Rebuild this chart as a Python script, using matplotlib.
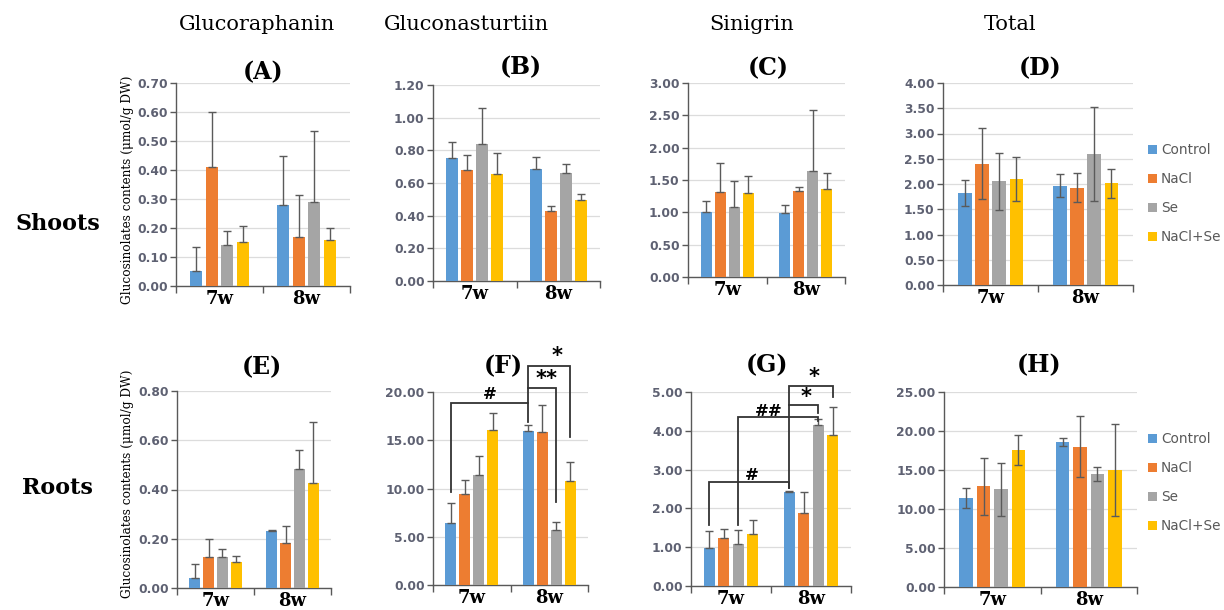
import numpy as np
import matplotlib
matplotlib.use("Agg")
import matplotlib.pyplot as plt
from matplotlib.patches import Patch

# ---------------- data ----------------
weeks = ['7w', '8w']
treatments = ['Control', 'NaCl', 'Se', 'NaCl+Se']
colors = ['#5B9BD5', '#ED7D31', '#A5A5A5', '#FFC000']

column_titles = ['Glucoraphanin', 'Gluconasturtiin', 'Sinigrin', 'Total']
row_titles = ['Shoots', 'Roots']
panel_labels = ['(A)', '(B)', '(C)', '(D)', '(E)', '(F)', '(G)', '(H)']

# means: [7w values per treatment], [8w values per treatment]
A_mean = [[0.053, 0.410, 0.142, 0.150], [0.281, 0.170, 0.288, 0.158]]
A_err = [[0.081, 0.190, 0.049, 0.058], [0.166, 0.145, 0.248, 0.043]]
B_mean = [[0.756, 0.681, 0.838, 0.656], [0.687, 0.427, 0.662, 0.497]]
B_err = [[0.094, 0.088, 0.221, 0.125], [0.075, 0.033, 0.056, 0.037]]
C_mean = [[1.007, 1.310, 1.084, 1.294], [0.991, 1.325, 1.638, 1.356]]
C_err = [[0.169, 0.452, 0.395, 0.267], [0.129, 0.072, 0.951, 0.247]]
D_mean = [[1.82, 2.40, 2.05, 2.10], [1.97, 1.93, 2.59, 2.01]]
D_err = [[0.26, 0.70, 0.57, 0.44], [0.22, 0.28, 0.93, 0.28]]
E_mean = [[0.040, 0.124, 0.124, 0.107], [0.232, 0.182, 0.482, 0.425]]
E_err = [[0.057, 0.074, 0.036, 0.023], [0.005, 0.069, 0.078, 0.248]]
F_mean = [[6.47, 9.48, 11.35, 16.09], [15.95, 15.88, 5.71, 10.76]]
F_err = [[2.01, 1.42, 1.97, 1.76], [0.62, 2.74, 0.86, 1.97]]
G_mean = [[0.99, 1.23, 1.07, 1.33], [2.43, 1.88, 4.14, 3.90]]
G_err = [[0.43, 0.23, 0.38, 0.36], [0.01, 0.55, 0.16, 0.71]]
H_mean = [[11.45, 12.90, 12.52, 17.56], [18.59, 17.99, 14.53, 15.04]]
H_err = [[1.30, 3.70, 3.40, 1.90], [0.55, 3.90, 0.90, 5.90]]

y_max = [0.70, 1.20, 3.00, 4.00, 0.80, 20.0, 5.0, 25.0]
y_step = [0.10, 0.20, 0.50, 0.50, 0.20, 5.0, 1.0, 5.0]
symmetric = [False, False, False, True, False, False, False, True]

# significance brackets: (week_left, trt_left, y_left_bottom, y_top, week_right, trt_right, y_right_bottom, label, label_x, label_y)
F_brackets = [
    (0, 0, 9.6, 18.9, 1, 0, 16.85, '#', 0.23, 18.9),
    (1, 0, 18.9, 20.4, 1, 2, 8.65, '**', 0.96, 20.35),
    (1, 0, 20.4, 22.66, 1, 3, 15.33, '*', 1.10, 22.7),
]
G_brackets = [
    (0, 0, 1.57, 2.69, 1, 0, 2.52, '#', 0.26, 2.62),
    (0, 2, 1.57, 4.35, 1, 2, 4.25, '##', 0.47, 4.28),
    (1, 0, 2.52, 4.66, 1, 2, 4.46, '*', 0.94, 4.62),
    (1, 0, 4.66, 5.16, 1, 3, 4.87, '*', 1.04, 5.12),
]

# ---------------- layout ----------------
W, H = 1224, 610
boxes = [  # left, right, top, bottom in pixels
    (176, 350, 83, 286), (433, 600, 85, 281), (688, 845, 83, 277), (943, 1133, 83, 285),
    (177, 331, 391, 588), (433, 588, 392, 585), (691, 851, 392, 586), (944, 1137, 392, 587),
]
label_pos = [(263, 72), (521, 67), (768, 68), (1040, 68),
             (262, 367), (503, 366), (767, 365), (1039, 365)]

pitch = 0.18
bw = 0.14
tick_color = '#5e6172'
axis_color = '#595959'

fig = plt.figure(figsize=(W / 100, H / 100), dpi=100)

means_all = [A_mean, B_mean, C_mean, D_mean, E_mean, F_mean, G_mean, H_mean]
errs_all = [A_err, B_err, C_err, D_err, E_err, F_err, G_err, H_err]
axes = []
for i, (l, r, t, b) in enumerate(boxes):
    ax = fig.add_axes([l / W, 1 - b / H, (r - l) / W, (b - t) / H])
    axes.append(ax)
    means, errs = means_all[i], errs_all[i]
    x = np.arange(len(weeks))
    for k in range(len(treatments)):
        xs = x + (k - 1.5) * pitch
        m = [means[w][k] for w in range(len(weeks))]
        e = [errs[w][k] for w in range(len(weeks))]
        yerr = [e, e] if symmetric[i] else [[0] * len(e), e]
        ax.bar(xs, m, width=bw, color=colors[k], yerr=yerr, zorder=3,
               error_kw=dict(ecolor='#5a5a5a', elinewidth=1.0, capsize=3, capthick=1.0, zorder=4),
               label=treatments[k])
    ax.set_xlim(-0.5, 1.5)
    ax.set_ylim(0, y_max[i])
    ticks = np.arange(0, y_max[i] + y_step[i] / 2, y_step[i])
    ax.set_yticks(ticks)
    ax.set_yticklabels(['%.2f' % v for v in ticks], fontsize=8.8, fontweight='bold',
                       color=tick_color, family='DejaVu Sans')
    ax.set_xticks(x)
    ax.set_xticklabels(weeks, fontsize=13, fontweight='bold', family='DejaVu Serif')
    ax.set_xticks([-0.5, 0.5, 1.5], minor=True)
    ax.tick_params(axis='x', which='major', length=0, pad=3)
    ax.tick_params(axis='x', which='minor', length=5, direction='out', color=axis_color, width=1)
    ax.tick_params(axis='y', length=4, direction='out', color=axis_color, width=1, pad=2)
    ax.grid(axis='y', color='#dcdcdc', linewidth=0.9, zorder=0)
    ax.set_axisbelow(True)
    for s in ['top', 'right']:
        ax.spines[s].set_visible(False)
    for s in ['left', 'bottom']:
        ax.spines[s].set_color(axis_color)
        ax.spines[s].set_linewidth(1.0)
    fig.text(label_pos[i][0] / W, 1 - label_pos[i][1] / H, panel_labels[i],
             ha='center', va='center', fontsize=17, fontweight='bold', family='DejaVu Serif')


def bar_x(week, trt):
    return week + (trt - 1.5) * pitch


def draw_brackets(ax, brackets, fs):
    for (wl, tl, yl, yt, wr, tr, yr, lab, lx, ly) in brackets:
        xl, xr = bar_x(wl, tl), bar_x(wr, tr)
        ax.plot([xl, xl, xr, xr], [yl, yt, yt, yr], color='#333333', lw=1.3,
                clip_on=False, zorder=5, solid_joinstyle='miter')
        if '*' in lab:
            ax.text(lx, ly, lab, ha='center', va='bottom', fontsize=fs + 3, fontweight='bold',
                    family='DejaVu Sans', clip_on=False)
        else:
            ax.text(lx, ly, lab, ha='center', va='bottom', fontsize=fs, fontweight='bold',
                    family='DejaVu Serif', clip_on=False)


draw_brackets(axes[5], F_brackets, 12)
draw_brackets(axes[6], G_brackets, 12)

# column titles
col_x = [257, 466, 752, 1010]
for cx, ttl in zip(col_x, column_titles):
    fig.text(cx / W, 1 - 25 / H, ttl, ha='center', va='center', fontsize=15, family='DejaVu Serif')

# row titles
fig.text(58 / W, 1 - 224 / H, row_titles[0], ha='center', va='center', fontsize=16,
         fontweight='bold', family='DejaVu Serif')
fig.text(57 / W, 1 - 488 / H, row_titles[1], ha='center', va='center', fontsize=16,
         fontweight='bold', family='DejaVu Serif')

# y labels
for yc in [190, 484]:
    fig.text(128 / W, 1 - yc / H, 'Glucosinolates contents (μmol/g DW)', rotation=90,
             ha='center', va='center', fontsize=8.7, family='DejaVu Serif')

# legends
handles = [Patch(facecolor=c, edgecolor='none') for c in colors]
for top in [143, 432]:
    fig.legend(handles, treatments, loc='upper left', bbox_to_anchor=(1148 / W, 1 - top / H),
               frameon=False, fontsize=9.8, handlelength=0.65, handleheight=0.65,
               handletextpad=0.3, labelspacing=1.1, labelcolor='#595959',
               borderpad=0, borderaxespad=0)

fig.savefig('out.png', dpi=100)
